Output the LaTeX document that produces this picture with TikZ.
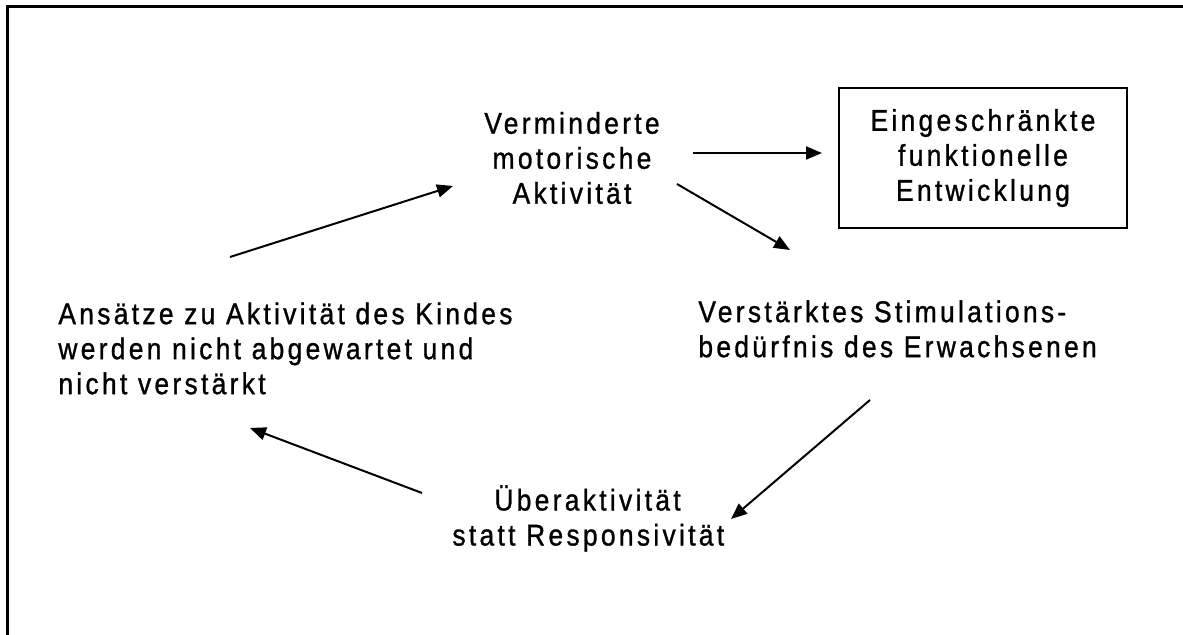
\documentclass[tikz,border=0pt]{standalone}
\usepackage{fontspec}
\setmainfont{Liberation Sans}[LetterSpace=11, FakeStretch=0.88, FakeBold=1]
\usetikzlibrary{arrows.meta}

\tikzset{
    cycle text/.style = {font=\fontsize{15}{17.5}\selectfont, inner sep=0pt},
    effect box/.style = {draw, line width=0.8pt, minimum width=144pt, minimum height=70pt,
        align=center, font=\fontsize{15}{17.5}\selectfont},
    cycle arrow/.style = {-{Triangle[length=8pt,width=6.5pt]}, line width=1pt}
}

\begin{document}
\begin{tikzpicture}[x=0.5pt,y=-0.5pt]
    \useasboundingbox (0,0) rectangle (1183,635);
    \draw[line width=1.5pt] (7,635) -- (7,7) -- (1183,7);

    \node[cycle text, align=center] (motorik) at (572,158) {Verminderte\\motorische\\Aktivität};
    \node[effect box] (entwicklung) at (983,158) {Eingeschränkte\\funktionelle\\Entwicklung};
    \node[cycle text, align=left, anchor=north west] (stimulation) at (698,300)
        {Verstärktes Stimulations-\\bedürfnis des Erwachsenen};
    \node[cycle text, align=left, anchor=north west] (ueberaktiv) at (452,485)
        {\hspace*{21pt}Überaktivität\\statt Responsivität};
    \node[cycle text, align=left, anchor=north west] (ansaetze) at (58,302)
        {Ansätze zu Aktivität des Kindes\\werden nicht abgewartet und\\nicht verstärkt};

    \coordinate (motorik-a) at (693,153);
    \coordinate (entwicklung-a) at (822,153);
    \coordinate (motorik-b) at (677,184);
    \coordinate (stimulation-a) at (790,250);
    \coordinate (stimulation-b) at (870,400);
    \coordinate (ueberaktiv-a) at (731,519);
    \coordinate (ueberaktiv-b) at (422,493);
    \coordinate (ansaetze-a) at (250,428);
    \coordinate (ansaetze-b) at (230,257);
    \coordinate (motorik-c) at (453,186);

    \draw[cycle arrow] (motorik-a) -- (entwicklung-a);
    \draw[cycle arrow] (motorik-b) -- (stimulation-a);
    \draw[cycle arrow] (stimulation-b) -- (ueberaktiv-a);
    \draw[cycle arrow] (ueberaktiv-b) -- (ansaetze-a);
    \draw[cycle arrow] (ansaetze-b) -- (motorik-c);
\end{tikzpicture}
\end{document}
